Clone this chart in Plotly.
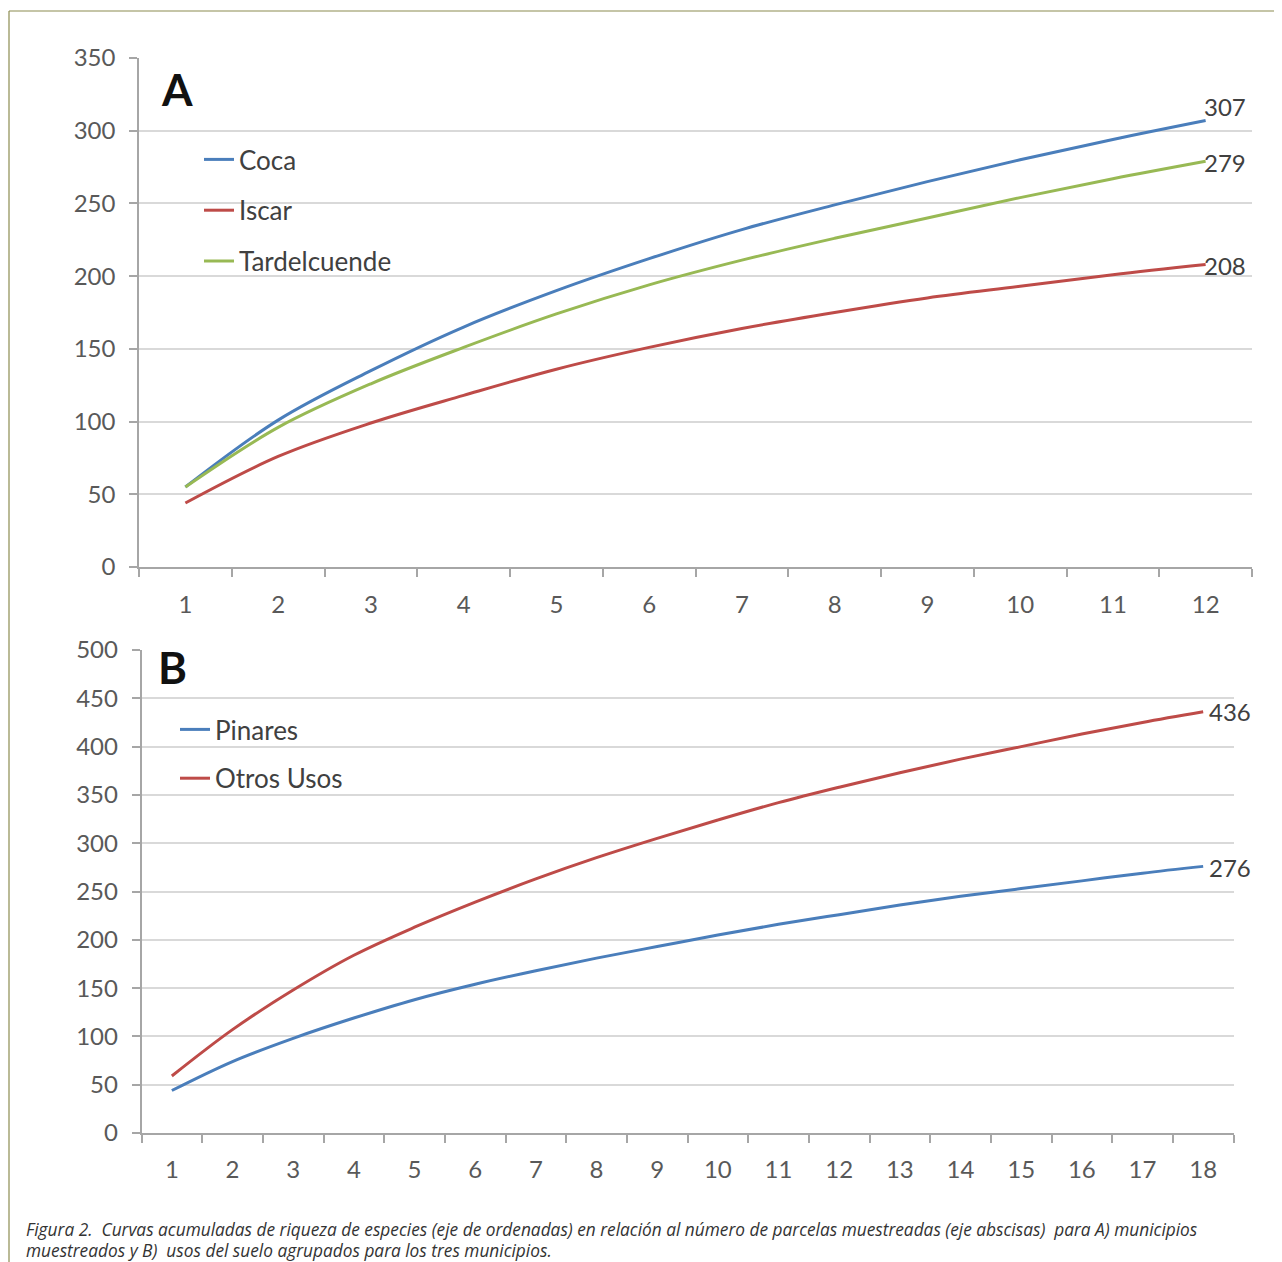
import plotly.graph_objects as go

# ---------------- data ----------------
parcelas_a = list(range(1, 13))
coca = [55, 101, 135, 165, 190, 212, 232, 249, 265, 280, 294, 307]
iscar = [44, 76, 99, 118, 136, 151, 164, 175, 185, 193, 201, 208]
tardelcuende = [55, 96, 126, 151, 174, 194, 211, 226, 240, 254, 267, 279]

parcelas_b = list(range(1, 19))
pinares = [44, 74, 98, 119, 138, 154, 168, 181, 193, 205, 216, 226, 236, 245, 253, 261, 269, 276]
otros_usos = [59, 107, 148, 184, 213, 239, 263, 285, 305, 324, 342, 358, 373, 387, 400, 413, 425, 436]

caption_lines = [
    "Figura 2.  Curvas acumuladas de riqueza de especies (eje de ordenadas) en relación al número de "
    "parcelas muestreadas (eje abscisas)  para A) municipios",
    "muestreados y B)  usos del suelo agrupados para los tres municipios.",
]

# ---------------- layout helpers ----------------
OFF = 8  # page body margin
W, H = 1282 - OFF, 1262 - OFF
def px(x):
    return (x - OFF) / W
def py(y):
    return 1 - (y - OFF) / H

BLUE = "#4A7EBB"
RED = "#BE4B48"
GREEN = "#98B954"
GRID = "#D9D9D9"
AXIS = "#A6A6A6"
TXT = "#595959"
FONT = "Lato, 'Open Sans', sans-serif"

fig = go.Figure()

def add_series(x, y, name, color, xa, ya, legend, group):
    fig.add_trace(go.Scatter(
        x=x, y=y, name=name, mode="lines",
        line=dict(color=color, width=3, shape="spline", smoothing=1),
        xaxis=xa, yaxis=ya, legend=legend, legendgroup=group,
        hoverinfo="skip"))

add_series(parcelas_a, coca, "Coca", BLUE, "x", "y", "legend", "a1")
add_series(parcelas_a, iscar, "Iscar", RED, "x", "y", "legend", "a2")
add_series(parcelas_a, tardelcuende, "Tardelcuende", GREEN, "x", "y", "legend", "a3")
add_series(parcelas_b, pinares, "Pinares", BLUE, "x2", "y2", "legend2", "b1")
add_series(parcelas_b, otros_usos, "Otros Usos", RED, "x2", "y2", "legend2", "b2")

# end labels
annotations = []
label_specs = [
    (parcelas_a, coca, "x", "y", -4, 14),
    (parcelas_a, tardelcuende, "x", "y", -4, -1),
    (parcelas_a, iscar, "x", "y", -4, -1),
    (parcelas_b, otros_usos, "x2", "y2", 4, 0),
    (parcelas_b, pinares, "x2", "y2", 4, -1),
]
for xs, ys, xa, ya, dx, dy in label_specs:
    annotations.append(dict(
        x=xs[-1], y=ys[-1], xref=xa, yref=ya, text=str(ys[-1]),
        showarrow=False, xanchor="left", yanchor="middle",
        xshift=dx, yshift=dy, font=dict(family=FONT, size=24, color="#404040")))

# panel letters
annotations.append(dict(x=px(177), y=py(89), xref="paper", yref="paper", text="<b>A</b>",
                        showarrow=False, xanchor="center", yanchor="middle",
                        font=dict(family=FONT, size=44, color="#111111")))
annotations.append(dict(x=px(172), y=py(667), xref="paper", yref="paper", text="<b>B</b>",
                        showarrow=False, xanchor="center", yanchor="middle",
                        font=dict(family=FONT, size=44, color="#111111")))

# caption
for i, line in enumerate(caption_lines):
    annotations.append(dict(x=px(24), y=py(1229 + 21 * i), xref="paper", yref="paper",
                            text="<i>" + line + "</i>",
                            showarrow=False, xanchor="left", yanchor="middle", align="left",
                            font=dict(family="'Open Sans', sans-serif", size=17.3, color="#333333")))

def xaxis_common(rng, dom, standoff):
    return dict(
        range=rng, domain=dom, tickmode="linear", tick0=1, dtick=1,
        showgrid=False, zeroline=False, showline=True, linecolor=AXIS, linewidth=1.5,
        ticks="outside", ticklen=8, tickcolor="rgba(0,0,0,0)", ticklabelstandoff=standoff,
        minor=dict(ticks="outside", ticklen=8, tickcolor=AXIS, tickwidth=1.5,
                   tick0=0.5, dtick=1, showgrid=False),
        tickfont=dict(family=FONT, size=24, color=TXT), fixedrange=True, automargin=False)

def yaxis_common(rng, dom, dt):
    return dict(
        range=rng, domain=dom, tickmode="linear", tick0=0, dtick=dt,
        showgrid=True, gridcolor=GRID, gridwidth=1.5, zeroline=False,
        showline=True, linecolor=AXIS, linewidth=1.5,
        ticks="outside", ticklen=8, tickcolor=AXIS, tickwidth=1.5, ticklabelstandoff=9,
        tickfont=dict(family=FONT, size=24, color=TXT), fixedrange=True, automargin=False)

fig.update_layout(
    width=W, height=H,
    margin=dict(l=0, r=0, t=0, b=0),
    paper_bgcolor="white", plot_bgcolor="white",
    xaxis=xaxis_common([0.5, 12.5], [px(139), px(1252)], 7),
    yaxis=dict(yaxis_common([0, 350], [py(567), py(58)], 50), anchor="x"),
    xaxis2=dict(xaxis_common([0.5, 18.5], [px(141.5), px(1233.5)], 6), anchor="y2"),
    yaxis2=dict(yaxis_common([0, 500], [py(1133), py(650)], 50), anchor="x2"),
    legend=dict(x=px(199), y=py(136), xanchor="left", yanchor="top",
                bgcolor="rgba(0,0,0,0)", borderwidth=0, traceorder="grouped",
                tracegroupgap=14, font=dict(family=FONT, size=26, color="#404040")),
    legend2=dict(x=px(175), y=py(706), xanchor="left", yanchor="top",
                 bgcolor="rgba(0,0,0,0)", borderwidth=0, traceorder="grouped",
                 tracegroupgap=12, font=dict(family=FONT, size=26, color="#404040")),
    annotations=annotations,
    shapes=[
        dict(type="line", xref="paper", yref="paper", x0=px(9), x1=1.0, y0=py(11), y1=py(11),
             line=dict(color="#8C8C50", width=1.2)),
        dict(type="line", xref="paper", yref="paper", x0=px(9), x1=px(9), y0=py(11), y1=0,
             line=dict(color="#8C8C50", width=1.2)),
    ],
)

fig.write_html("out.html")
